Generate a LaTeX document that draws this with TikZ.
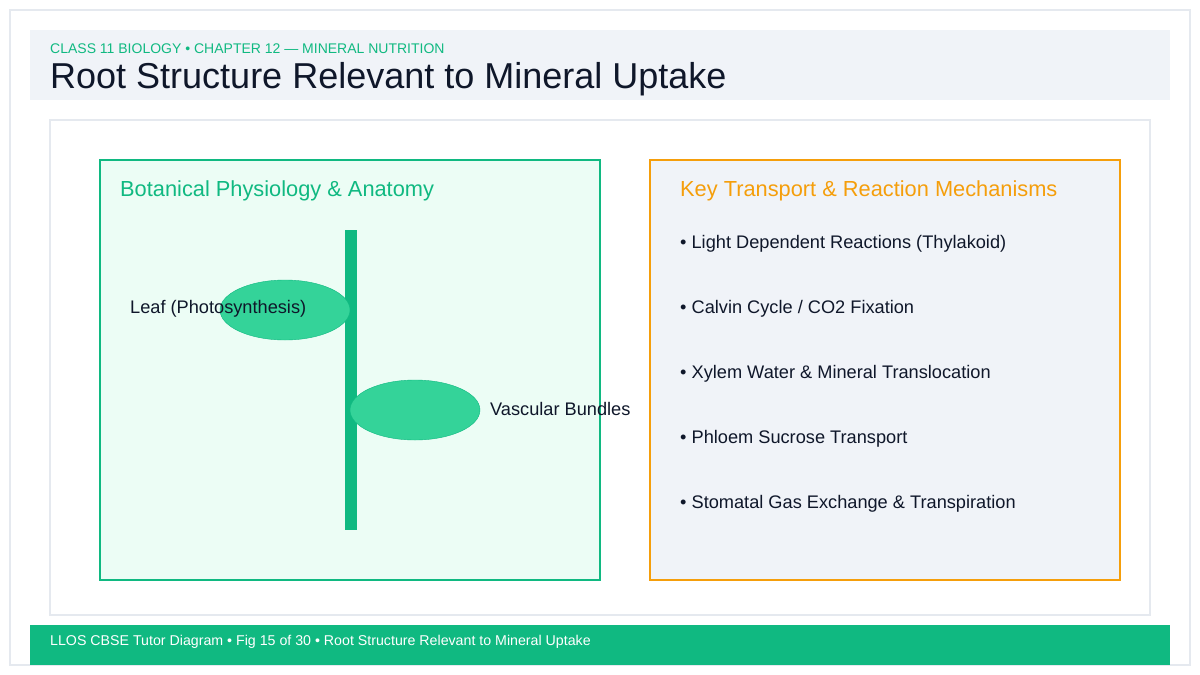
\documentclass[tikz,border=0pt]{standalone}
\usepackage{fontspec}
\usetikzlibrary{shapes.geometric}
\setmainfont{Liberation Sans}
\definecolor{grn}{HTML}{10B981}
\definecolor{lgrn}{HTML}{ECFDF5}
\definecolor{leaf}{HTML}{34D399}
\definecolor{org}{HTML}{F59E0B}
\definecolor{ink}{HTML}{0F172A}
\definecolor{hdr}{HTML}{F0F3F8}
\definecolor{bord}{HTML}{E5E9EF}
\begin{document}
\begin{tikzpicture}[x=1pt,y=-1pt,
  lbl/.style={anchor=west,inner sep=0,text=ink,font=\fontsize{18.2}{20}\selectfont},
  bul/.style={lbl},
  leafs/.style={ellipse,draw=grn,fill=leaf,minimum width=130,minimum height=60,inner sep=0}]
\useasboundingbox (0,0) rectangle (1200,675);
\fill[white] (0,0) rectangle (1200,675);
\draw[bord,line width=2] (10,10) rectangle (1190,665);
\fill[hdr] (30,30) rectangle (1170,100);
\node[anchor=west,inner sep=0,text=grn,font=\fontsize{14}{15}\selectfont] (sub) at (50,49) {CLASS 11 BIOLOGY • CHAPTER 12 — MINERAL NUTRITION};
\node[anchor=west,inner sep=0,text=ink,font=\fontsize{36}{40}\selectfont] (title) at (50,79) {Root Structure Relevant to Mineral Uptake};
\draw[bord,line width=1.5,fill=white] (50,120) rectangle (1150,615);
\draw[grn,line width=2,fill=lgrn] (100,160) rectangle (600,580);
\node[anchor=west,inner sep=0,text=grn,font=\fontsize{21.8}{24}\selectfont] (lt) at (120,191) {Botanical Physiology \& Anatomy};
\fill[grn] (345,230) rectangle (357,530);
\node[leafs] (l1) at (285,310) {};
\node[leafs] (l2) at (415,410) {};
\node[lbl] (t1) at (130,309) {Leaf (Photosynthesis)};
\node[lbl] (t2) at (490,409) {Vascular Bundles};
\draw[org,line width=2,fill=hdr] (650,160) rectangle (1120,580);
\node[anchor=west,inner sep=0,text=org,font=\fontsize{21.8}{24}\selectfont] (rt) at (680,191) {Key Transport \& Reaction Mechanisms};
\node[bul] (b1) at (680,244) {• Light Dependent Reactions (Thylakoid)};
\node[bul] (b2) at (680,309) {• Calvin Cycle / CO2 Fixation};
\node[bul] (b3) at (680,374) {• Xylem Water \& Mineral Translocation};
\node[bul] (b4) at (680,439) {• Phloem Sucrose Transport};
\node[bul] (b5) at (680,504) {• Stomatal Gas Exchange \& Transpiration};
\fill[grn] (30,625) rectangle (1170,665);
\node[anchor=west,inner sep=0,text=white,font=\fontsize{14.2}{15}\selectfont] (ft) at (50,642) {LLOS CBSE Tutor Diagram • Fig 15 of 30 • Root Structure Relevant to Mineral Uptake};
\end{tikzpicture}
\end{document}
